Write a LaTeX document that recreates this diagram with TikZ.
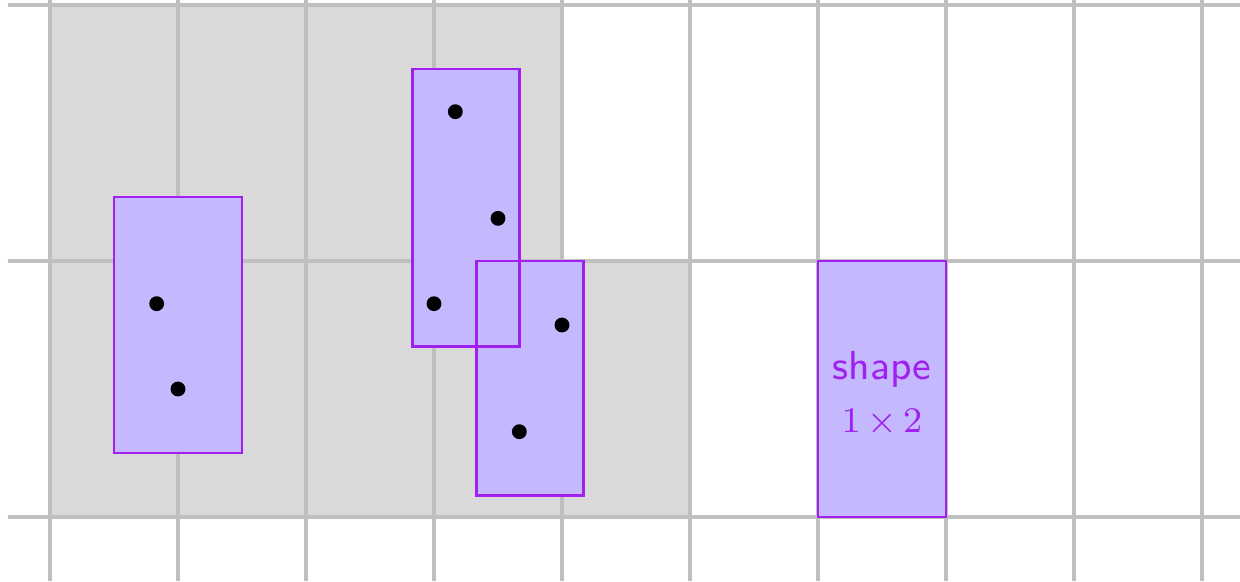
\documentclass[tikz,border=0pt]{standalone}
\usepackage{xcolor}
\usepackage{tikz}
\definecolor{gridgray}{RGB}{191,191,191}
\definecolor{cellgray}{RGB}{217,217,217}
\definecolor{shapeviolet}{RGB}{160,32,240}
\definecolor{shapefill}{RGB}{196,184,255}

\begin{document}
\begin{tikzpicture}[
    gridline/.style={draw=gridgray, line width=0.7pt},
    tilefill/.style={fill=shapefill},
    tileline/.style={draw=shapeviolet, line width=0.65pt},
    dot/.style={circle, fill=black, inner sep=0pt, minimum size=3.3pt},
    tilelabel/.style={text=shapeviolet, align=center, font=\fontsize{9}{11.8}\selectfont}
]
    \useasboundingbox (-0.390625,-0.5) rectangle (9.296875,4.0390625);

    % Covered cells
    \fill[cellgray] (0,0) rectangle (5,2) (0,2) rectangle (4,4);

    % Grid
    \foreach \x in {0,...,9}
        \draw[gridline] (\x,-0.5) -- (\x,4.04);
    \foreach \y in {0,2,4}
        \draw[gridline] (-0.33,\y) -- (9.3,\y);

    % Placed tiles: fills first, outlines on top
    \fill[tilefill] (0.5,0.5) rectangle (1.5,2.5);
    \fill[tilefill] (17/6,4/3) rectangle (11/3,3.5);
    \fill[tilefill] (10/3,1/6) rectangle (25/6,2);
    \fill[tilefill] (6,0) rectangle (7,2);
    \draw[tileline] (0.5,0.5) rectangle (1.5,2.5);
    \draw[tileline] (17/6,4/3) rectangle (11/3,3.5);
    \draw[tileline] (10/3,1/6) rectangle (25/6,2);
    \draw[tileline] (6,0) rectangle (7,2);

    % Sample points
    \node[dot] (a1) at (5/6,5/3) {};
    \node[dot] (a2) at (1,1) {};
    \node[dot] (b1) at (19/6,19/6) {};
    \node[dot] (b2) at (3.5,7/3) {};
    \node[dot] (b3) at (3,5/3) {};
    \node[dot] (c1) at (4,1.5) {};
    \node[dot] (c2) at (11/3,2/3) {};

    % Legend tile
    \node[tilelabel] (legend) at (6.5,0.96)
        {\sffamily shape\\{\fontsize{8.3}{10}\selectfont$1\mkern3mu{\times}\mkern3mu2$}};
\end{tikzpicture}
\end{document}
